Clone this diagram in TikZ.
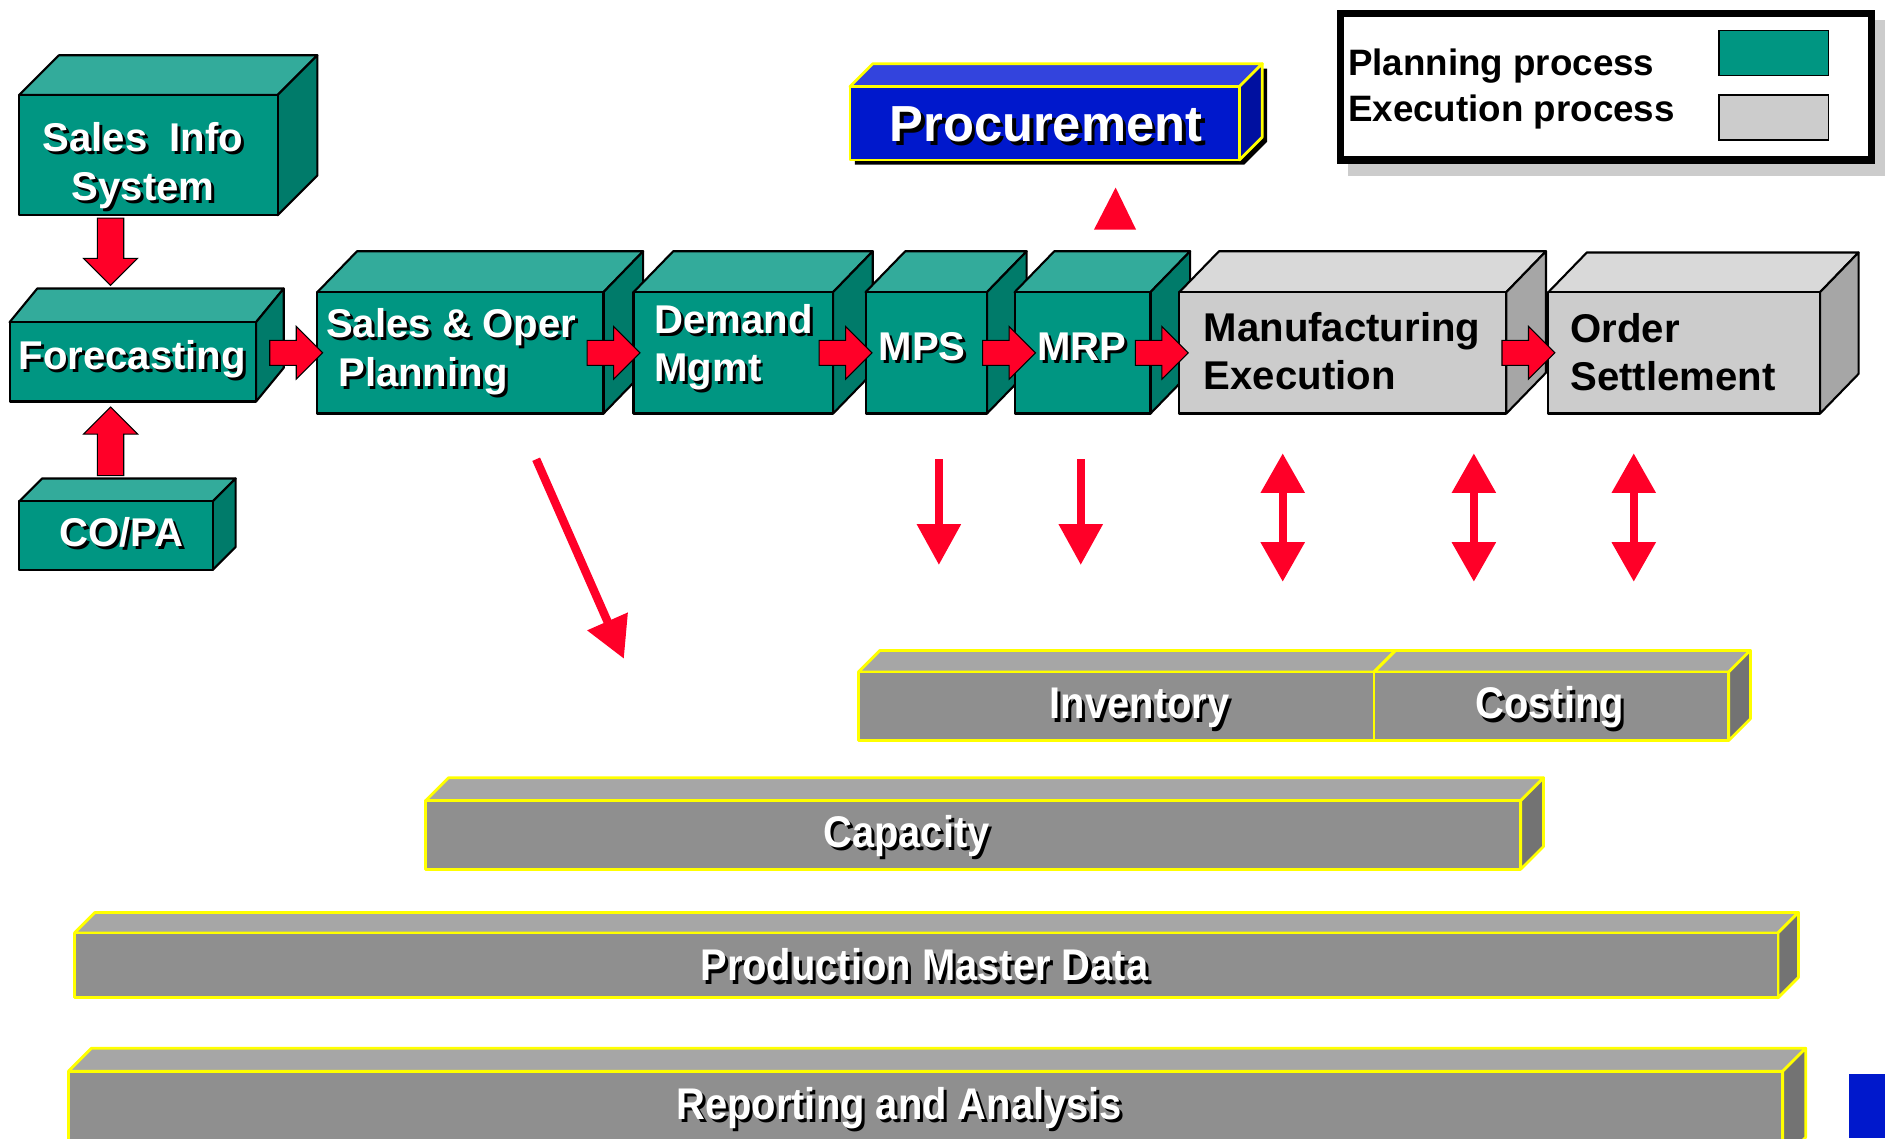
\documentclass[tikz,border=0pt]{standalone}
\usepackage{fontspec}
\usepackage{graphicx}
\setmainfont{Liberation Sans}
\usetikzlibrary{calc,shapes.arrows,arrows.meta}

\definecolor{tealF}{RGB}{0,150,130}
\definecolor{tealT}{RGB}{51,171,155}
\definecolor{tealS}{RGB}{0,123,106}
\definecolor{greyF}{RGB}{204,204,204}
\definecolor{greyT}{RGB}{217,217,217}
\definecolor{greyS}{RGB}{166,166,166}
\definecolor{barF}{RGB}{143,143,143}
\definecolor{barT}{RGB}{166,166,166}
\definecolor{barS}{RGB}{115,115,115}
\definecolor{procF}{RGB}{0,24,204}
\definecolor{procT}{RGB}{51,68,221}
\definecolor{procS}{RGB}{0,16,160}
\definecolor{arrR}{RGB}{255,0,40}
\definecolor{edgeY}{RGB}{255,255,0}
\definecolor{legshade}{RGB}{204,204,204}

\newcommand{\shtxt}[2][1.4pt]{\leavevmode\rlap{\kern#1\raisebox{-#1}{\color{black}#2}}#2}
\newcommand{\bartxt}[1]{\scalebox{0.9}[1]{\shtxt[1.6pt]{#1}}}

\newcommand{\cube}[8]{%
  \filldraw[#2-top] (#3,#4) -- ++(#7,-#8) -- ++(#5-#3,0) -- (#5,#4) -- cycle;
  \filldraw[#2-side] (#5,#4) -- ++(#7,-#8) -- ++(0,#6-#4) -- (#5,#6) -- cycle;
  \node[#2-front, minimum width={(#5-#3)*0.02cm}, minimum height={(#6-#4)*0.02cm}]
    (#1) at ({(#3+#5)/2},{(#4+#6)/2}) {};
}

\tikzset{
  cubeline/.style={draw=black, line width=1pt, line join=round},
  teal-top/.style={cubeline, fill=tealT},
  teal-side/.style={cubeline, fill=tealS},
  teal-front/.style={cubeline, fill=tealF, inner sep=0pt, outer sep=0pt},
  grey-top/.style={cubeline, fill=greyT},
  grey-side/.style={cubeline, fill=greyS},
  grey-front/.style={cubeline, fill=greyF, inner sep=0pt, outer sep=0pt},
  edgeline/.style={draw=edgeY, line width=1.3pt, line join=round},
  bar-top/.style={edgeline, fill=barT},
  bar-side/.style={edgeline, fill=barS},
  bar-front/.style={edgeline, fill=barF, inner sep=0pt, outer sep=0pt},
  proc-top/.style={edgeline, fill=procT},
  proc-side/.style={edgeline, fill=procS},
  proc-front/.style={edgeline, fill=procF, inner sep=0pt, outer sep=0pt},
  lbl/.style={text=white, font=\bfseries\fontsize{19}{23}\selectfont, inner sep=0pt, align=left},
  dlbl/.style={lbl, text=black},
  barlbl/.style={text=white, font=\bfseries\fontsize{21}{25}\selectfont, inner sep=0pt, anchor=base},
  leglbl/.style={text=black, font=\bfseries\fontsize{17.4}{21}\selectfont, inner sep=0pt, anchor=west},
  swatch/.style={draw=black, line width=0.8pt, minimum width=1.82cm, minimum height=0.75cm, inner sep=0pt},
  blockarr/.style={single arrow, draw=black, line width=0.5pt, fill=arrR, inner xsep=0pt,
    inner ysep=0.2cm, single arrow head extend=0.23cm, minimum height=0.88cm},
  thinarr/.style={draw=arrR, line width=0.14cm, -{Triangle[width=0.7cm 0, length=0.68cm 0]}},
  dblarr/.style={draw=arrR, line width=0.14cm,
    {Triangle[width=0.7cm 0, length=0.66cm 0]}-{Triangle[width=0.7cm 0, length=0.66cm 0]}}
}

\begin{document}
\begin{tikzpicture}[x=0.02cm, y=-0.02cm]
\useasboundingbox (0,0) rectangle (1568,947);
\clip (0,0) rectangle (1568,947);

\fill[legshade] (1121,17) rectangle (1568,146);
\filldraw[fill=white, draw=black, line width=0.12cm] (1115,11) rectangle (1557,133);
\node[swatch, fill=tealF] (plan-sw) at (1475.5,44) {};
\node[swatch, fill=greyF] (exec-sw) at (1475.5,97.5) {};
\node[leglbl] (plan-t) at (1121,55) {Planning process};
\node[leglbl] (exec-t) at (1121,93) {Execution process};

\fill[black] (711,137) -- (711,76) -- (730,57) -- (1054,57) -- (1054,118) -- (1035,137) -- cycle;
\cube{proc}{proc}{707}{72}{1031}{133}{19}{19}
\node[lbl, font=\bfseries\fontsize{24}{28}\selectfont, anchor=base] (proc-t) at (870,118) {\shtxt[1.8pt]{Procurement}};
\fill[arrR] (910,191) -- (928,156) -- (945,191) -- cycle;

\cube{sis}{teal}{16}{79}{231}{179}{33}{33}
\cube{fc}{teal}{8}{268}{213}{334}{23}{28}
\cube{copa}{teal}{16}{417}{177}{474}{19}{19}
\cube{sop}{teal}{264}{243}{502}{344}{33}{34}
\cube{dm}{teal}{527}{243}{693}{344}{33}{34}
\cube{mps}{teal}{720}{243}{821}{344}{33}{34}
\cube{mrp}{teal}{844}{243}{957}{344}{33}{34}
\cube{mfg}{grey}{981}{243}{1253}{344}{33}{34}
\cube{ord}{grey}{1288}{243}{1514}{344}{32}{33}

\node[lbl, align=center] (sis-t) at (119,139) {\shtxt{Sales~~Info}\\\shtxt{System}};
\node[lbl, anchor=base] (fc-t) at (110,307) {\shtxt{Forecasting}};
\node[lbl, anchor=base] (copa-t) at (101,455) {\shtxt{CO/PA}};
\node[lbl, anchor=west] (sop-t) at (271,294) {\shtxt{Sales \& Oper}\\\hspace*{0.2cm}\shtxt{Planning}};
\node[lbl, anchor=west] (dm-t) at (544,290) {\shtxt{Demand}\\\shtxt{Mgmt}};
\node[lbl, anchor=base] (mps-t) at (767,300) {\shtxt{MPS}};
\node[lbl, anchor=base] (mrp-t) at (900,300) {\shtxt{MRP}};
\node[dlbl, anchor=west] (mfg-t) at (1001,292) {Manufacturing\\Execution};
\node[dlbl, anchor=west] (ord-t) at (1306,293) {Order\\Settlement};

\node[blockarr, rotate=-90, anchor=tip, inner ysep=0.21cm, single arrow head extend=0.23cm,
  minimum height=1.12cm] (sis-fc) at ([xshift=-0.37cm,yshift=0.6cm]fc.north) {};
\node[blockarr, rotate=90, anchor=tip, inner ysep=0.21cm, single arrow head extend=0.23cm,
  minimum height=1.14cm] (copa-fc) at ([xshift=-0.37cm,yshift=-0.08cm]fc.south) {};
\node[blockarr, anchor=tip] (fc-sop) at ([xshift=0.1cm]sop.west) {};
\node[blockarr, anchor=tip] (sop-dm) at ([xshift=0.12cm]dm.west) {};
\node[blockarr, anchor=tip] (dm-mps) at ([xshift=0.12cm]mps.west) {};
\node[blockarr, anchor=tip] (mps-mrp) at ([xshift=0.36cm]mrp.west) {};
\node[blockarr, anchor=tip] (mrp-mfg) at ([xshift=0.16cm]mfg.west) {};
\node[blockarr, anchor=tip] (mfg-ord) at ([xshift=0.12cm]ord.west) {};

\cube{inv}{bar}{714}{559}{1143}{616}{18}{18}
\cube{cost}{bar}{1143}{559}{1438}{616}{18}{18}
\cube{cap}{bar}{354}{666}{1265}{723}{19}{19}
\cube{pmd}{bar}{62}{776}{1479}{830}{17}{17}
\cube{rep}{bar}{57}{891}{1483}{965}{19}{19}
\node[barlbl] (inv-t) at (948,598) {\bartxt{Inventory}};
\node[barlbl] (cost-t) at (1289,598) {\bartxt{Costing}};
\node[barlbl] (cap-t) at (754,705) {\bartxt{Capacity}};
\node[barlbl] (pmd-t) at (769,816) {\bartxt{Production Master Data}};
\node[barlbl] (rep-t) at (748,931) {\bartxt{Reporting and Analysis}};
\fill[procF] (1538,893) rectangle (1568,947);

\coordinate (sop-out) at (446,382);
\coordinate (cap-in) at (519,548);
\coordinate (mps-out) at (781,382);
\coordinate (mps-in) at (781,470);
\coordinate (mrp-out) at (899,382);
\coordinate (mrp-in) at (899,470);
\coordinate (mfg-a) at (1067,377);
\coordinate (mfg-b) at (1067,484);
\coordinate (ord-a) at (1226,377);
\coordinate (ord-b) at (1226,484);
\coordinate (set-a) at (1359,377);
\coordinate (set-b) at (1359,484);
\draw[thinarr] (sop-out) -- (cap-in);
\draw[thinarr] (mps-out) -- (mps-in);
\draw[thinarr] (mrp-out) -- (mrp-in);
\draw[dblarr] (mfg-a) -- (mfg-b);
\draw[dblarr] (ord-a) -- (ord-b);
\draw[dblarr] (set-a) -- (set-b);
\end{tikzpicture}
\end{document}
